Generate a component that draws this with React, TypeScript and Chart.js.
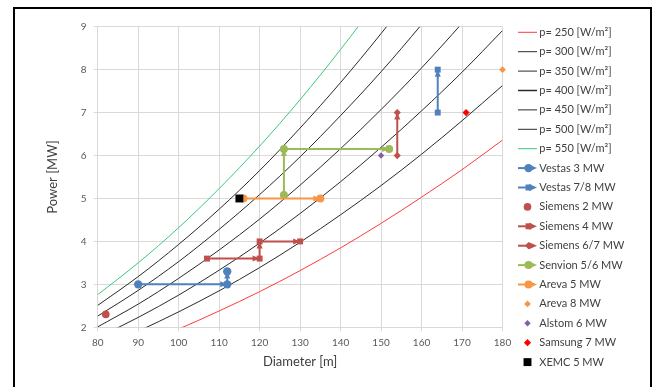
import React, { useEffect, useRef } from 'react';
import { Chart, registerables } from 'chart.js';

Chart.register(...registerables);

const FONT = 'Lato, "Open Sans", Arial, sans-serif';
const TEXT = '#404040';
const TICK = '#595959';
const GRID = '#d9d9d9';

// Specific-power curves: power [MW] read at each diameter [m]
const diameters = [80, 90, 100, 110, 120, 130, 140, 150, 160, 170, 180];
const p250 = [1.26, 1.59, 1.96, 2.38, 2.83, 3.32, 3.85, 4.42, 5.03, 5.67, 6.36];
const p300 = [1.51, 1.91, 2.36, 2.85, 3.39, 3.98, 4.62, 5.3, 6.03, 6.81, 7.63];
const p350 = [1.76, 2.23, 2.75, 3.33, 3.96, 4.65, 5.39, 6.19, 7.04, 7.94, 8.91];
const p400 = [2.01, 2.54, 3.14, 3.8, 4.52, 5.31, 6.16, 7.07, 8.04, 9.08, 10.18];
const p450 = [2.26, 2.86, 3.53, 4.28, 5.09, 5.97, 6.93, 7.95, 9.05, 10.21, 11.45];
const p500 = [2.51, 3.18, 3.93, 4.75, 5.65, 6.64, 7.7, 8.84, 10.05, 11.35, 12.72];
const p550 = [2.76, 3.5, 4.32, 5.23, 6.22, 7.3, 8.47, 9.72, 11.06, 12.48, 14.0];
const curveValues = [p250, p300, p350, p400, p450, p500, p550];
const curveLabels = ['p= 250 [W/m²]', 'p= 300 [W/m²]', 'p= 350 [W/m²]', 'p= 400 [W/m²]', 'p= 450 [W/m²]', 'p= 500 [W/m²]', 'p= 550 [W/m²]'];
const curveColors = ['#ff3b3b', '#2a2a2a', '#2a2a2a', '#2a2a2a', '#2a2a2a', '#2a2a2a', '#3cc878'];

// Turbines: diameter [m] and power [MW]
const vestas3D = [90, 112, 112];
const vestas3P = [3, 3, 3.3];
const vestas78D = [164, 164];
const vestas78P = [7, 8];
const siemens2D = [82];
const siemens2P = [2.3];
const siemens4D = [107, 120, 120, 130];
const siemens4P = [3.6, 3.6, 4, 4];
const siemens67D = [154, 154];
const siemens67P = [6, 7];
const senvionD = [126, 126, 152];
const senvionP = [5.08, 6.15, 6.15];
const areva5D = [116, 135];
const areva5P = [5, 5];
const areva8D = [180];
const areva8P = [8];
const alstom6D = [150];
const alstom6P = [6];
const samsung7D = [171];
const samsung7P = [7];
const xemc5D = [115];
const xemc5P = [5];

const turbineLabels = ['Vestas 3 MW', 'Vestas 7/8 MW', 'Siemens 2 MW', 'Siemens 4 MW', 'Siemens 6/7 MW', 'Senvion 5/6 MW', 'Areva 5 MW', 'Areva 8 MW', 'Alstom 6 MW', 'Samsung 7 MW', 'XEMC 5 MW'];
const turbineD = [vestas3D, vestas78D, siemens2D, siemens4D, siemens67D, senvionD, areva5D, areva8D, alstom6D, samsung7D, xemc5D];
const turbineP = [vestas3P, vestas78P, siemens2P, siemens4P, siemens67P, senvionP, areva5P, areva8P, alstom6P, samsung7P, xemc5P];
const turbineColors = ['#4f81bd', '#4f81bd', '#c0504d', '#c0504d', '#c0504d', '#9bbb59', '#f79646', '#f79646', '#8064a2', '#ff0000', '#000000'];
const turbineMarkers = ['circle', 'rect', 'circle', 'rect', 'rectRot', 'circle', 'circle', 'rectRot', 'rectRot', 'rectRot', 'rect'];
const turbineSizes = [4.2, 4.2, 3.8, 4.2, 3.6, 4, 4, 3.4, 3.2, 3.6, 5.6];
const turbineLines = [true, true, false, true, true, true, true, false, false, false, false];

const curveDatasets = curveValues.map((vals, i) => ({
  label: curveLabels[i],
  data: diameters.map((d, j) => ({ x: d, y: vals[j] })),
  showLine: true,
  borderColor: curveColors[i],
  backgroundColor: curveColors[i],
  borderWidth: 1,
  pointRadius: 0,
  cubicInterpolationMode: 'monotone' as const,
  order: -i,
  kind: 'curve',
}));

const turbineDatasets = turbineLabels.map((label, i) => ({
  label,
  data: turbineD[i].map((d, j) => ({ x: d, y: turbineP[i][j] })),
  showLine: turbineLines[i],
  borderColor: turbineColors[i],
  backgroundColor: turbineColors[i],
  borderWidth: 2,
  pointStyle: turbineMarkers[i],
  pointRadius: turbineSizes[i],
  pointBackgroundColor: turbineColors[i],
  pointBorderColor: turbineColors[i],
  pointBorderWidth: 0,
  clip: false as const,
  order: -(i + 10),
  kind: 'turbine',
}));

function drawMarker(ctx: CanvasRenderingContext2D, style: string, x: number, y: number, r: number, color: string) {
  ctx.fillStyle = color;
  ctx.beginPath();
  if (style === 'circle') {
    ctx.arc(x, y, r, 0, Math.PI * 2);
  } else if (style === 'rect') {
    const s = r * Math.SQRT1_2;
    ctx.rect(x - s, y - s, 2 * s, 2 * s);
  } else {
    ctx.moveTo(x - r, y);
    ctx.lineTo(x, y - r);
    ctx.lineTo(x + r, y);
    ctx.lineTo(x, y + r);
    ctx.closePath();
  }
  ctx.fill();
}

function drawArrow(ctx: CanvasRenderingContext2D, x1: number, y1: number, x2: number, y2: number, color: string, L = 7, W = 3) {
  const a = Math.atan2(y2 - y1, x2 - x1);
  const c = Math.cos(a);
  const s = Math.sin(a);
  ctx.fillStyle = color;
  ctx.beginPath();
  ctx.moveTo(x2, y2);
  ctx.lineTo(x2 - L * c + W * s, y2 - L * s - W * c);
  ctx.lineTo(x2 - L * c - W * s, y2 - L * s + W * c);
  ctx.closePath();
  ctx.fill();
}

const arrowPlugin = {
  id: 'segmentArrows',
  afterDatasetDraw(chart: any, args: any) {
    const ds = chart.data.datasets[args.index];
    if (ds.kind !== 'turbine' || !ds.showLine) return;
    const pts = args.meta.data;
    const ctx = chart.ctx;
    ctx.save();
    for (let j = 1; j < pts.length; j++) {
      drawArrow(ctx, pts[j - 1].x, pts[j - 1].y, pts[j].x, pts[j].y, ds.borderColor);
    }
    ctx.restore();
  },
};

const legendPlugin = {
  id: 'sideLegend',
  afterDraw(chart: any) {
    const ctx = chart.ctx;
    const area = chart.chartArea;
    const x0 = area.right + 15.5;
    const y0 = area.top + 5.6;
    const step = 19.4;
    ctx.save();
    ctx.font = `11px ${FONT}`;
    ctx.textBaseline = 'middle';
    ctx.textAlign = 'left';
    chart.data.datasets.forEach((ds: any, i: number) => {
      const y = y0 + i * step;
      if (ds.kind === 'curve') {
        ctx.strokeStyle = ds.borderColor;
        ctx.lineWidth = i === 3 ? 1.5 : 1;
        ctx.beginPath();
        ctx.moveTo(x0, y);
        ctx.lineTo(x0 + 19, y);
        ctx.stroke();
      } else {
        if (ds.showLine) {
          ctx.strokeStyle = ds.borderColor;
          ctx.lineWidth = 2;
          ctx.beginPath();
          ctx.moveTo(x0, y);
          ctx.lineTo(x0 + 16, y);
          ctx.stroke();
          drawArrow(ctx, x0, y, x0 + 19, y, ds.borderColor, 8, 3.5);
          drawMarker(ctx, ds.pointStyle, x0 + 10.5, y, ds.pointRadius, ds.borderColor);
        } else {
          drawMarker(ctx, ds.pointStyle, x0 + 9.5, y, ds.pointRadius, ds.borderColor);
        }
      }
      ctx.fillStyle = TEXT;
      ctx.fillText(ds.label, x0 + 21.3, y);
    });
    ctx.restore();
  },
};

export default function App() {
  const ref = useRef<HTMLCanvasElement>(null);
  useEffect(() => {
    if (!ref.current) return;
    const chart = new Chart(ref.current, {
      type: 'scatter',
      data: { datasets: [...curveDatasets, ...turbineDatasets] as any },
      options: {
        responsive: false,
        animation: false,
        layout: { padding: { left: 0, right: 147.5, top: 16.7, bottom: 0 } },
        plugins: { legend: { display: false }, tooltip: { enabled: false } },
        scales: {
          x: {
            type: 'linear',
            min: 80,
            max: 180,
            ticks: { stepSize: 10, font: { family: FONT, size: 10 }, color: TICK, padding: 5.7 },
            grid: { color: GRID, tickLength: 4 },
            border: { color: GRID },
            title: { display: true, text: 'Diameter [m]', font: { family: FONT, size: 13 }, color: TEXT, padding: { top: 0, bottom: 17.2 } },
            afterFit: (s: any) => { s.height = 59.7; },
          },
          y: {
            type: 'linear',
            min: 2,
            max: 9,
            ticks: { stepSize: 1, font: { family: FONT, size: 10 }, color: TICK, padding: 7.2 },
            grid: { color: GRID, tickLength: 4 },
            border: { color: GRID },
            title: { display: true, text: 'Power [MW]', font: { family: FONT, size: 13 }, color: TEXT, padding: { top: 28.8, bottom: 0 } },
            afterFit: (s: any) => { s.width = 81.7; },
          },
        },
      } as any,
      plugins: [arrowPlugin, legendPlugin],
    });
    return () => chart.destroy();
  }, []);

  return (
    <div style={{ position: 'absolute', left: 0, top: 0, width: 654, height: 387, overflow: 'hidden', background: '#fff' }}>
      <canvas ref={ref} width={634} height={377} style={{ position: 'absolute', left: 16, top: 10, width: 634, height: 377 }} />
      <div style={{ position: 'absolute', left: 13, top: 7, width: 639, height: 400, border: '2px solid #000', boxSizing: 'border-box', pointerEvents: 'none' }} />
    </div>
  );
}
